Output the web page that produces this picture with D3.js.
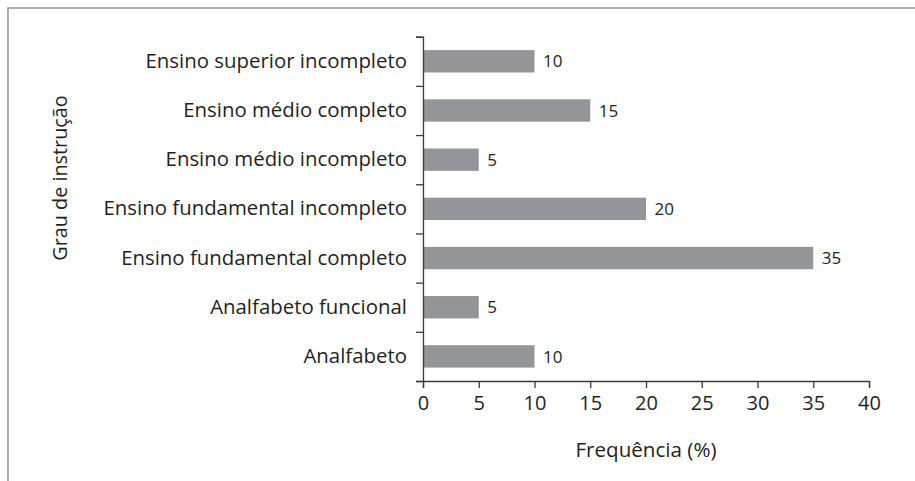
<!DOCTYPE html>
<html><head><meta charset="utf-8">
<script src="https://cdn.jsdelivr.net/npm/d3@7"></script>
<style>body{margin:0;background:#fff}svg{display:block}text{font-family:"Open Sans",sans-serif;fill:#231f20}</style>
</head><body><svg id="c" width="915" height="481"></svg>
<script>
const categories = ["Ensino superior incompleto","Ensino médio completo","Ensino médio incompleto","Ensino fundamental incompleto","Ensino fundamental completo","Analfabeto funcional","Analfabeto"];
const values = [10,15,5,20,35,5,10];
const xTicks = [0,5,10,15,20,25,30,35,40];
const xTitle = "Frequência (%)";
const yTitle = "Grau de instrução";

const svg = d3.select("#c");
// frame
svg.append("path").attr("d","M8,481V8H915").attr("fill","none").attr("stroke","#9a9a9a").attr("stroke-width",1.6);

const L=423, R=869, T=36.7, B=381;
const x = d3.scaleLinear().domain([0,40]).range([L,R]);
const y = d3.scaleBand().domain(categories).range([T,B]).paddingInner(0.545).paddingOuter(0.2725);
const yb = d3.scaleLinear().domain([0,categories.length]).range([B,T]);

svg.selectAll("rect.bar").data(values).enter().append("rect")
  .attr("x",x(0)).attr("y",(d,i)=>y(categories[i]))
  .attr("width",d=>x(d)-x(0)).attr("height",y.bandwidth()).attr("fill","#939598");

svg.selectAll("text.val").data(values).enter().append("text")
  .attr("x",d=>x(d)+8.5).attr("y",(d,i)=>y(categories[i])+y.bandwidth()/2)
  .attr("dy","0.36em").attr("font-size",17).text(d=>d);

// x axis
const gx = svg.append("g").attr("transform",`translate(0,${B})`)
  .call(d3.axisBottom(x).tickValues(xTicks).tickSize(7).tickPadding(8));
gx.selectAll("text").attr("font-size",20).attr("fill","#231f20");
gx.selectAll("line,path").attr("stroke","#3a3a3a").attr("stroke-width",1.3);

// y axis boundary ticks
const gy = svg.append("g").attr("transform",`translate(${L},0)`)
  .call(d3.axisLeft(yb).tickValues(d3.range(categories.length+1)).tickSize(7).tickFormat(""));
gy.selectAll("line,path").attr("stroke","#3a3a3a").attr("stroke-width",1.3);
const gyl = svg.append("g").attr("transform",`translate(${L},0)`)
  .call(d3.axisLeft(y).tickSize(0).tickPadding(16));
gyl.select("path").remove();
gyl.selectAll("text").attr("font-size",20.4).attr("fill","#231f20");

svg.append("text").attr("x",(L+R)/2).attr("y",457).attr("text-anchor","middle").attr("font-size",20.6).text(xTitle);
svg.append("text").attr("transform","translate(67,178) rotate(-90)").attr("text-anchor","middle").attr("font-size",19.8).text(yTitle);
</script></body></html>
